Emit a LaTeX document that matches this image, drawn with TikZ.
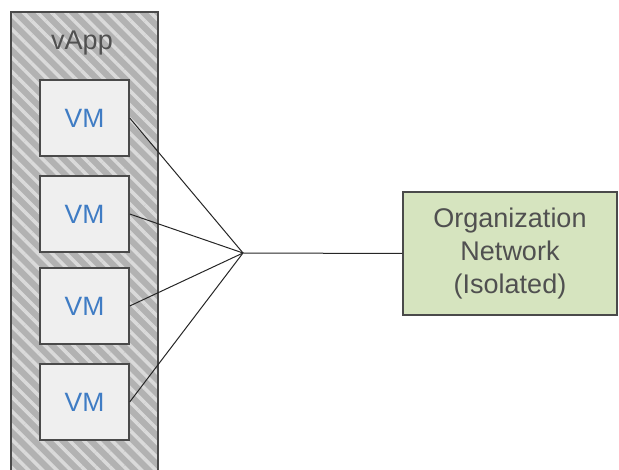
\documentclass[tikz,border=0pt]{standalone}
\usepackage{fontspec}
\setmainfont{Liberation Sans}
\usetikzlibrary{patterns.meta}

\definecolor{vappgrey}{HTML}{B2B2B2}
\definecolor{stripegrey}{HTML}{DADADA}
\definecolor{edgegrey}{HTML}{4A4A4A}
\definecolor{vmfill}{HTML}{EFEFEF}
\definecolor{vmblue}{HTML}{3F7CC4}
\definecolor{netgreen}{HTML}{D6E4BF}
\definecolor{textgrey}{HTML}{505050}

\tikzset{
  vmbox/.style={draw=edgegrey, line width=1.4pt, fill=vmfill, minimum width=89pt,
    minimum height=76pt, text=vmblue, font=\fontsize{26.5}{30}\selectfont},
  netbox/.style={draw=edgegrey, line width=1.4pt, fill=netgreen, minimum width=214pt,
    minimum height=123pt, text=textgrey, align=center, font=\fontsize{27}{33}\selectfont},
  link/.style={draw=black!85, line width=1pt}
}

\begin{document}
\begin{tikzpicture}[x=1pt,y=-1pt]
        \clip (0,0) rectangle (619,470);
          % vApp container
          \draw[edgegrey, line width=1.4pt, preaction={fill=vappgrey},
            pattern={Lines[angle=-45,distance=10pt,line width=3.5pt]}, pattern color=stripegrey]
            (11,12) rectangle (158,490);
          \node[text=textgrey, font=\fontsize{27}{30}\selectfont] (vapp) at (82,43) {vApp};

          \coordinate (hub) at (243,253);

          \foreach \i/\y in {1/118,2/214,3/306,4/402}{
            \node[vmbox] (vm\i) at (84.5,\y) {VM};
            \draw[link] (vm\i.east) -- (hub);
          }

          \node[netbox] (orgnet) at (510,253.5) {Organization\\Network\\(Isolated)};
          \draw[link] (hub) -- (orgnet.west);
        \end{tikzpicture}
\end{document}
